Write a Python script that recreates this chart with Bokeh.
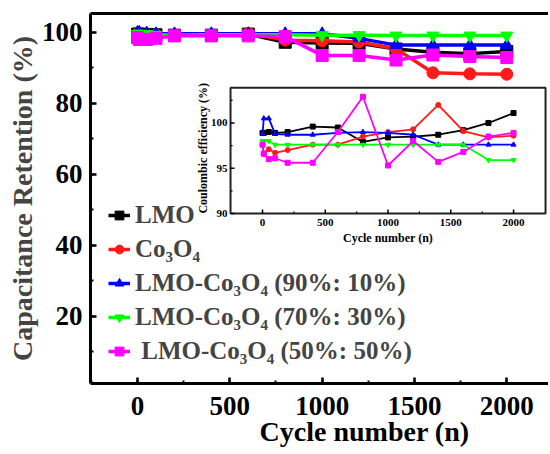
import numpy as np
from bokeh.plotting import figure
from bokeh.models import (Range1d, LinearAxis, SingleIntervalTicker, FixedTicker,
                          Legend, LegendItem)
from bokeh.embed import file_html
from bokeh.resources import INLINE
from bokeh.core.properties import value

# ---------------- data ----------------
cycles = [0, 10, 50, 100, 200, 400, 600, 800, 1000, 1200, 1400, 1600, 1800, 2000]

ret_lmo = [99.5, 99.5, 99.4, 99.3, 99.2, 99.2, 99.5, 97.2, 97.0, 96.9, 95.3, 94.4, 94.0, 94.6]
ret_co3o4 = [99.5, 99.0, 99.2, 99.2, 99.2, 99.3, 99.7, 97.8, 97.6, 97.3, 95.4, 88.6, 88.3, 88.2]
ret_9010 = [100.0, 100.0, 99.8, 99.6, 99.6, 99.6, 99.6, 99.6, 99.6, 98.3, 96.4, 96.4, 96.4, 96.4]
ret_7030 = [99.6, 99.6, 99.5, 99.3, 99.2, 99.3, 99.3, 99.3, 99.2, 99.2, 99.1, 99.1, 99.1, 99.1]
ret_5050 = [98.5, 98.0, 98.0, 98.3, 99.0, 99.0, 99.0, 98.8, 93.5, 93.5, 92.2, 93.6, 93.2, 92.9]

ce_lmo = [98.9, 98.9, 99.0, 98.9, 99.0, 99.6, 99.5, 97.9, 98.4, 98.5, 98.7, 99.2, 100.0, 101.1]
ce_co3o4 = [97.6, 96.6, 97.1, 96.7, 97.0, 97.6, 97.6, 98.5, 99.0, 99.3, 102.0, 99.1, 98.4, 98.6]
ce_9010 = [98.8, 100.5, 100.5, 98.8, 98.7, 98.7, 98.9, 99.0, 98.9, 98.7, 97.6, 97.6, 97.6, 97.6]
ce_7030 = [98.0, 98.0, 98.0, 97.6, 97.6, 97.6, 97.6, 97.6, 97.6, 97.6, 97.6, 97.6, 95.9, 95.9]
ce_5050 = [97.6, 96.6, 96.0, 96.1, 95.6, 95.6, 99.0, 102.9, 95.3, 98.0, 95.7, 96.8, 98.5, 98.9]

series_names = ["LMO", "Co₃O₄", "LMO-Co₃O₄ (90%: 10%)",
                "LMO-Co₃O₄ (70%: 30%)", " LMO-Co₃O₄ (50%: 50%)"]
series_colors = ["#000000", "#ff1a1a", "#0000ff", "#00ff00", "#ff00ff"]
series_markers = ["square", "circle", "triangle", "inverted_triangle", "square"]

x_label = "Cycle number (n)"
y_label = "Capacitance Retention (%)"
inset_x_label = "Cycle number (n)"
inset_y_label = "Coulombic efficiency (%)"
inset_x_ticks = [0, 500, 1000, 1500, 2000]
inset_y_ticks = [90, 95, 100]

FONT = "Liberation Serif"

# ---------------- main figure ----------------
p = figure(width=548, height=450,
           x_range=Range1d(-254.6, 2226), y_range=Range1d(1.1, 105.3),
           output_backend="svg", toolbar_location=None,
           min_border_left=90, min_border_right=0,
           min_border_top=13, min_border_bottom=67)
p.grid.visible = False
p.outline_line_color = None
p.background_fill_color = "white"

for ax in (p.xaxis[0], p.yaxis[0]):
    ax.axis_line_width = 3
    ax.major_tick_in = 6
    ax.major_tick_out = 0
    ax.minor_tick_in = 3
    ax.minor_tick_out = 0
    ax.major_tick_line_width = 2.5
    ax.minor_tick_line_width = 2
    ax.major_label_text_font = FONT
    ax.major_label_text_font_style = "bold"
    ax.major_label_text_font_size = "27px"
    ax.major_label_text_color = "black"

p.xaxis[0].major_label_standoff = 13
p.yaxis[0].major_label_standoff = 8
p.xaxis[0].ticker = SingleIntervalTicker(interval=500, num_minor_ticks=2)
p.yaxis[0].ticker = SingleIntervalTicker(interval=20, num_minor_ticks=2)

p.yaxis[0].axis_label = y_label
p.yaxis[0].axis_label_text_font = FONT
p.yaxis[0].axis_label_text_font_style = "bold"
p.yaxis[0].axis_label_text_font_size = "28px"
p.yaxis[0].axis_label_standoff = 1

# top spine (no ticks)
top_axis = LinearAxis(ticker=FixedTicker(ticks=[]), axis_line_width=3,
                      major_tick_in=0, major_tick_out=0,
                      minor_tick_in=0, minor_tick_out=0)
p.add_layout(top_axis, "above")

# x axis title, placed off-centre like the reference
xlab_pos = 1230
xlab_axis = LinearAxis(ticker=FixedTicker(ticks=[xlab_pos]),
                       major_label_overrides={xlab_pos: x_label},
                       axis_line_color=None, major_tick_line_color=None,
                       minor_tick_line_color=None, major_label_standoff=-8,
                       major_label_text_font=FONT, major_label_text_font_style="bold",
                       major_label_text_font_size="28px", major_label_text_color="black")
p.add_layout(xlab_axis, "below")

main_items = []
for ys, name, col, mk in zip([ret_lmo, ret_co3o4, ret_9010, ret_7030, ret_5050],
                             series_names, series_colors, series_markers):
    lr = p.line(cycles, ys, line_color=col, line_width=3.5)
    sr = p.scatter(cycles, ys, marker=mk, size=12, fill_color=col, line_color=col)
    main_items.append(LegendItem(label=name, renderers=[lr, sr]))

legend = Legend(items=main_items, location=(18, 15),
                label_text_font=FONT, label_text_font_style="bold",
                label_text_font_size="25px", glyph_width=22, glyph_height=34,
                label_height=34, spacing=0, padding=0, margin=0,
                label_standoff=5, background_fill_alpha=0, border_line_alpha=0)
p.add_layout(legend)

# ---------------- inset (sub-coordinates) ----------------
ix_src = Range1d(-255, 2255)
iy_src = Range1d(90, 103.9)
sub = p.subplot(x_source=ix_src, y_source=iy_src,
                x_target=Range1d(503.8, 2210), y_target=Range1d(49.0, 84.4))

sub.quad(left=[ix_src.start], right=[ix_src.end], bottom=[iy_src.start], top=[iy_src.end],
         fill_color="white", line_color="#222222", line_width=2)

minor_x = [(a + b) / 2 for a, b in zip(inset_x_ticks[:-1], inset_x_ticks[1:])]
minor_y = [(a + b) / 2 for a, b in zip(inset_y_ticks[:-1], inset_y_ticks[1:])] + [102.5]
sub.ray(x=inset_x_ticks, y=[iy_src.start] * len(inset_x_ticks), length=4,
        length_units="screen", angle=np.pi / 2, line_color="black", line_width=1.5)
sub.ray(x=minor_x, y=[iy_src.start] * len(minor_x), length=2,
        length_units="screen", angle=np.pi / 2, line_color="black", line_width=1.2)
sub.ray(x=[ix_src.start] * len(inset_y_ticks), y=inset_y_ticks, length=4,
        length_units="screen", angle=0, line_color="black", line_width=1.5)
sub.ray(x=[ix_src.start] * len(minor_y), y=minor_y, length=2,
        length_units="screen", angle=0, line_color="black", line_width=1.2)

sub.text(x=inset_x_ticks, y=[iy_src.start] * len(inset_x_ticks),
         text=[str(t) for t in inset_x_ticks], y_offset=9,
         text_align="center", text_baseline="middle",
         text_font=value(FONT), text_font_style="bold", text_font_size="11px",
         text_color="black")
sub.text(x=[ix_src.start] * len(inset_y_ticks), y=inset_y_ticks,
         text=[str(t) for t in inset_y_ticks], x_offset=-3,
         text_align="right", text_baseline="middle",
         text_font=value(FONT), text_font_style="bold", text_font_size="11px",
         text_color="black")
sub.text(x=[ix_src.start], y=[97.2], text=[inset_y_label],
         angle=np.pi / 2, x_offset=-28, text_align="center", text_baseline="middle",
         text_font=value(FONT), text_font_style="bold", text_font_size="12px",
         text_color="black")
sub.text(x=[1000], y=[iy_src.start], text=[inset_x_label], y_offset=25,
         text_align="center", text_baseline="middle",
         text_font=value(FONT), text_font_style="bold", text_font_size="12px",
         text_color="black")

for ys, col, mk in zip([ce_lmo, ce_co3o4, ce_9010, ce_7030, ce_5050],
                       series_colors, series_markers):
    sub.line(cycles, ys, line_color=col, line_width=1.8)
    sub.scatter(cycles, ys, marker=mk, size=5, fill_color=col, line_color=col)

open("out.html", "w").write(file_html(p, INLINE))
